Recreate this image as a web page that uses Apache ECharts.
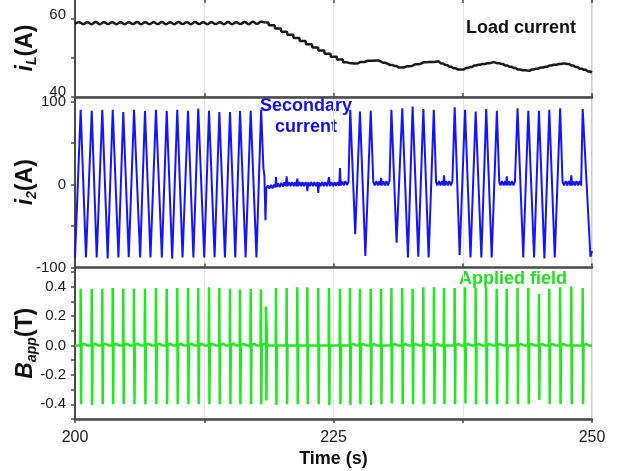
<!DOCTYPE html>
<html>
<head>
<meta charset="utf-8">
<script src="https://cdn.jsdelivr.net/npm/echarts@6/dist/echarts.min.js"></script>
<style>
html, body { margin: 0; padding: 0; background: #ffffff; }
#chart { width: 621px; height: 471px; }
</style>
</head>
<body>
<div id="chart"></div>
<script>
// ---- Load current i_L (A): rippled plateau, then a staircase decline ----
const loadRippleTime = [200.0, 200.4, 200.8, 201.2, 201.6, 202.0, 202.4, 202.8, 203.2, 203.6,
  204.0, 204.4, 204.8, 205.2, 205.6, 206.0, 206.4, 206.8, 207.2, 207.6,
  208.0, 208.4, 208.8, 209.2, 209.6, 210.0, 210.4, 210.8, 211.2, 211.6,
  212.0, 212.4, 212.8, 213.2, 213.6, 214.0, 214.4, 214.8, 215.2, 215.6,
  216.0, 216.4, 216.8, 217.2, 217.6, 218.0, 218.4];
const loadRippleAmp = [58.6, 59.0, 58.5, 59.0, 58.5, 59.05, 58.5, 59.0, 58.55, 59.0,
  58.5, 59.0, 58.5, 59.0, 58.55, 59.05, 58.5, 59.0, 58.5, 59.0,
  58.55, 59.05, 58.5, 59.0, 58.5, 59.05, 58.55, 59.0, 58.5, 59.05,
  58.55, 59.0, 58.5, 59.0, 58.55, 59.0, 58.5, 59.05, 58.5, 59.0,
  58.55, 59.05, 58.5, 59.1, 58.6, 59.1, 58.9];
const loadStepTime = [218.4, 218.7, 218.8, 219.3, 219.4, 219.9, 220.0, 220.5, 220.6, 221.1,
  221.2, 221.7, 221.8, 222.3, 222.4, 222.9, 223.0, 223.5, 223.6, 224.1,
  224.2, 224.7, 224.8, 225.3, 225.4, 225.9, 226.0, 226.6, 227.0, 227.4,
  227.6, 228.0, 228.3, 228.8, 229.1, 229.5, 229.8, 230.2, 230.5, 230.9,
  231.3, 231.8, 232.1, 232.6, 232.9, 233.4, 233.7, 234.2, 234.7, 235.0,
  235.4, 235.8, 236.2, 236.6, 237.0, 237.4, 237.8, 238.2, 238.6, 239.0,
  239.4, 239.9, 240.4, 240.8, 241.2, 241.6, 242.0, 242.4, 242.8, 243.3,
  243.8, 244.2, 244.6, 245.0, 245.5, 245.9, 246.3, 246.8, 247.2, 247.6,
  248.0, 248.4, 248.8, 249.2, 249.6, 250.0];
const loadStepAmp = [58.9, 58.9, 58.2, 58.2, 57.4, 57.4, 56.6, 56.6, 55.8, 55.8,
  55.0, 55.0, 54.2, 54.2, 53.4, 53.4, 52.6, 52.6, 51.8, 51.8,
  51.0, 51.0, 50.2, 50.2, 49.5, 49.5, 48.8, 48.6, 48.5, 48.6,
  48.9, 48.9, 49.2, 49.2, 49.3, 49.1, 48.7, 48.5, 48.1, 47.9,
  47.5, 47.5, 47.8, 47.9, 48.3, 48.4, 48.8, 48.9, 48.9, 49.0,
  48.5, 48.1, 47.7, 47.3, 47.0, 47.0, 47.4, 47.6, 48.0, 48.2,
  48.4, 48.6, 48.8, 48.6, 48.4, 48.0, 47.7, 47.4, 47.0, 46.8,
  46.7, 47.0, 47.2, 47.5, 47.7, 48.0, 48.2, 48.4, 48.5, 48.4,
  48.0, 47.6, 47.2, 46.9, 46.5, 46.2];

// ---- Secondary current i_2 (A) ----
const secTime = [200.0, 200.55, 201.06, 201.62, 202.1, 202.64, 203.16, 203.65, 204.2, 204.67,
  205.2, 205.71, 206.3, 206.77, 207.3, 207.83, 208.4, 208.87, 209.4, 209.89,
  210.4, 210.93, 211.45, 211.92, 212.5, 212.96, 213.5, 213.96, 214.5, 214.99,
  215.5, 215.96, 216.5, 216.99, 217.55, 218.0, 218.22, 218.32, 218.42, 218.5,
  218.65, 218.8, 218.95, 219.1, 219.25, 219.38, 219.44, 219.5, 219.65, 219.8,
  219.95, 220.1, 220.25, 220.38, 220.47, 220.55, 220.7, 220.85, 221.0, 221.15,
  221.3, 221.42, 221.5, 221.58, 221.72, 221.87, 222.0, 222.15, 222.3, 222.42,
  222.47, 222.55, 222.7, 222.85, 223.0, 223.15, 223.3, 223.45, 223.53, 223.6,
  223.75, 223.9, 224.05, 224.2, 224.35, 224.48, 224.56, 224.64, 224.8, 224.95,
  225.1, 225.25, 225.4, 225.55, 225.63, 225.7, 225.85, 226.0, 226.15, 226.3,
  226.45, 226.62, 227.1, 227.56, 228.08, 228.6, 228.85, 229.0, 229.15, 229.3,
  229.45, 229.55, 229.6, 229.68, 229.82, 229.97, 230.12, 230.27, 230.42, 230.6,
  231.1, 231.65, 232.2, 232.65, 233.2, 233.69, 234.2, 234.7, 234.92, 235.05,
  235.2, 235.35, 235.5, 235.63, 235.69, 235.76, 235.9, 236.05, 236.2, 236.35,
  236.5, 236.72, 237.2, 237.72, 238.25, 238.75, 239.3, 239.77, 240.3, 240.8,
  241.03, 241.15, 241.3, 241.45, 241.6, 241.7, 241.75, 241.82, 241.95, 242.1,
  242.25, 242.4, 242.55, 242.8, 243.35, 243.84, 244.4, 244.87, 245.4, 245.87,
  246.4, 246.92, 247.15, 247.3, 247.45, 247.6, 247.75, 247.9, 248.0, 248.08,
  248.2, 248.35, 248.5, 248.65, 248.8, 248.95, 249.1, 249.85, 250.0];
const secAmp = [-88, 90, -88, 89, -88, 90, -89, 90, -88, 87.5,
  -87.5, 90, -88, 88.5, -88, 90, -88, 88.5, -89.5, 90,
  -88, 89, -88, 91.5, -88, 89, -87.5, 87.5, -88, 87.5,
  -88, 88.5, -88, 89, -88, 90, 20, 10, -43, -5,
  -1, -5, -0.5, -4.5, 0, -3.5, 9, -3, 1.5, -3,
  2, -2.5, 2.5, -2, 10, -2, 3, -2, 3, -2,
  3, -2, 7, -2, 3, -2, 3, -2, 3, -1.5,
  -8, 3, -2, 3, -2, 3, -2, 3, -10, 2.5,
  -2, 3, -2, 3, -2, 3, 9, -2, 3, -2,
  3, -1.5, 3, -1.5, 20, -1, 3.5, -1, 4, -0.5,
  3, 90, -60, 88, -86, 89, 3, -1, 4, -1,
  4, -1, 8, -1, 4, -1, 4, -1, 4, 90,
  -70, 92, -88, 94, -87, 91, -88, 90, 3, -1,
  4, -1, 4, -1, 11, -1, 4, -1, 4, -1,
  4, 93, -85, 90, -88, 88, -88, 91, -88, 89,
  3, -1, 4, -1, 4, -1, 10, -1, 4, -1,
  4, -1, 4, 92, -88, 89, -88, 89, -89, 90,
  -88, 92, 3, -1, 4, -1, 4, -1, 11, -1,
  4, -1, 4, -1, 4, -1, 91, -87, -80];

// ---- Applied field B_app (T): one pulse per entry ----
const pulseTime = [200.55, 201.62, 202.64, 203.65, 204.67, 205.71, 206.77, 207.83, 208.87, 209.89,
  210.93, 211.92, 212.96, 213.96, 214.99, 215.96, 216.99, 217.98, 218.47, 219.44,
  220.47, 221.5, 222.47, 223.53, 224.56, 225.63, 226.6, 227.56, 228.6, 229.6,
  230.6, 231.65, 232.65, 233.69, 234.72, 235.69, 236.72, 237.72, 238.75, 239.77,
  240.78, 241.75, 242.8, 243.84, 244.87, 245.87, 246.92, 248.0, 249.1];
const pulseHigh = [0.385, 0.385, 0.385, 0.39, 0.385, 0.385, 0.385, 0.39, 0.385, 0.39,
  0.39, 0.39, 0.395, 0.39, 0.385, 0.38, 0.385, 0.38, 0.265, 0.39,
  0.39, 0.395, 0.395, 0.39, 0.39, 0.385, 0.39, 0.385, 0.385, 0.385,
  0.39, 0.39, 0.385, 0.395, 0.395, 0.39, 0.39, 0.395, 0.39, 0.39,
  0.385, 0.385, 0.39, 0.39, 0.35, 0.385, 0.395, 0.40, 0.39];
const pulseLow = [-0.40, -0.405, -0.40, -0.40, -0.40, -0.40, -0.40, -0.40, -0.40, -0.40,
  -0.40, -0.40, -0.40, -0.40, -0.40, -0.40, -0.40, -0.40, -0.375, -0.405,
  -0.40, -0.40, -0.40, -0.40, -0.405, -0.40, -0.405, -0.40, -0.405, -0.40,
  -0.395, -0.40, -0.40, -0.40, -0.40, -0.40, -0.40, -0.395, -0.40, -0.40,
  -0.40, -0.40, -0.40, -0.40, -0.37, -0.40, -0.40, -0.40, -0.40];
// small baseline ripple after each pulse while the secondary current flows
const pulseRipple = [0.012, 0.012, 0.012, 0.012, 0.012, 0.012, 0.012, 0.012, 0.012, 0.012,
  0.012, 0.012, 0.012, 0.012, 0.012, 0.012, 0.012, 0.012, 0, 0,
  0, 0, 0, 0, 0, 0, 0.01, 0.01, 0.01, 0,
  0.01, 0.01, 0.01, 0.01, 0.01, 0, 0.01, 0.01, 0.01, 0.01,
  0.01, 0, 0.01, 0.01, 0.01, 0.01, 0.01, 0, 0.01];

const timeTicks = [200, 225, 250];

// ---- build series point lists ----
const zip = (a, b) => a.map((t, i) => [t, b[i]]);
const loadRipple = zip(loadRippleTime, loadRippleAmp);
const loadSteps = zip(loadStepTime, loadStepAmp);
const secondary = zip(secTime, secAmp);

const field = [[200, 0]];
pulseTime.forEach((t, i) => {
  field.push([t - 0.03, 0], [t, pulseHigh[i]], [t + 0.04, pulseLow[i]], [t + 0.08, 0]);
  if (pulseRipple[i] > 0) {
    field.push([t + 0.3, pulseRipple[i]], [t + 0.6, 0]);
  }
});
field.push([250, 0]);

const FONT = '"Liberation Sans", Arial, Helvetica, sans-serif';
const AXIS_COLOR = '#4a4a4a';

function xAxisFor(gridIndex, showLabels) {
  return {
    type: 'value', gridIndex, min: 200, max: 250, interval: 12.5,
    axisLine: { show: true, onZero: false, lineStyle: { color: AXIS_COLOR, width: 2.5 } },
    axisTick: { show: true, inside: !showLabels, length: 4, lineStyle: { color: AXIS_COLOR, width: 1.5 } },
    axisLabel: {
      show: showLabels, fontFamily: FONT, fontSize: 16, color: '#1a1a1a', margin: 11,
      formatter: v => (timeTicks.indexOf(v) >= 0 ? String(v) : '')
    },
    splitLine: { show: true, lineStyle: { color: '#e3e3e3', width: 1 } },
    name: showLabels ? 'Time (s)' : '',
    nameLocation: 'middle', nameGap: 31, nameMoveOverlap: false,
    nameTextStyle: { fontFamily: FONT, fontWeight: 'bold', fontSize: 18, color: '#111' }
  };
}

function nameStyle() {
  return {
    rich: {
      v: { fontFamily: FONT, fontStyle: 'italic', fontWeight: 'bold', fontSize: 23, color: '#111' },
      s: { fontFamily: FONT, fontStyle: 'italic', fontWeight: 'bold', fontSize: 14, color: '#111', padding: [12, 0, 0, 0] },
      u: { fontFamily: FONT, fontWeight: 'bold', fontSize: 23, color: '#111' }
    }
  };
}

function yAxisFor(gridIndex, cfg) {
  return {
    type: 'value', gridIndex, min: cfg.min, max: cfg.max, interval: cfg.interval,
    axisLine: { show: true, onZero: false, lineStyle: { color: AXIS_COLOR, width: 2 } },
    axisTick: { show: true, inside: false, length: 4, lineStyle: { color: AXIS_COLOR, width: 1.5 } },
    axisLabel: {
      fontFamily: FONT, fontSize: 15, color: '#1a1a1a', margin: 9,
      showMaxLabel: false,
      formatter: cfg.formatter, rich: cfg.rich
    },
    splitLine: { show: false },
    name: cfg.name, nameLocation: 'middle', nameRotate: 90, nameGap: cfg.nameGap,
    nameMoveOverlap: false,
    nameTextStyle: nameStyle()
  };
}

// three stacked panels sharing one time scale; fixed placement, no auto-fit of labels
const gridBase = { left: 75, right: 29, show: true, borderColor: '#9a9a9a', borderWidth: 1, containLabel: false, outerBoundsMode: 'none' };

const chart = echarts.init(document.getElementById('chart'), null, { renderer: 'canvas' });

chart.setOption({
  backgroundColor: '#ffffff',
  animation: false,
  grid: [
    Object.assign({ top: -1, height: 98 }, gridBase),
    Object.assign({ top: 97, height: 170.5 }, gridBase),
    Object.assign({ top: 267.5, height: 151.5 }, gridBase)
  ],
  xAxis: [
    xAxisFor(0, false),
    Object.assign(xAxisFor(0, false), { position: 'top', splitLine: { show: false }, axisLine: { show: false } }),
    xAxisFor(1, false),
    xAxisFor(2, true)
  ],
  yAxis: [
    yAxisFor(0, {
      min: 40, max: 64.9, interval: 10, nameGap: 36,
      name: '{v|i}{s|L}{u|(A)}',
      formatter: v => (v === 40 ? '{lo|40}' : v === 60 ? '{hi|60}' : ''),
      rich: {
        lo: { fontFamily: FONT, fontSize: 15, color: '#1a1a1a', padding: [0, 0, 11, 0] },
        hi: { fontFamily: FONT, fontSize: 15, color: '#1a1a1a', padding: [0, 0, 6, 0] }
      }
    }),
    yAxisFor(1, {
      min: -100, max: 105.5, interval: 50, nameGap: 36,
      name: '{v|i}{s|2}{u|(A)}',
      formatter: v => (v === -100 || v === 0 || v === 100 ? String(v) : '')
    }),
    yAxisFor(2, {
      min: -0.5, max: 0.53, interval: 0.1, nameGap: 36,
      name: '{v|B}{s|app}{u|(T)}',
      formatter: v => {
        const k = Math.round(v * 10);
        return (k % 2 === 0 && Math.abs(k) <= 4) ? (k / 10).toFixed(1) : '';
      }
    })
  ],
  series: [
    {
      type: 'line', xAxisIndex: 0, yAxisIndex: 0, data: loadRipple, smooth: 0.5,
      showSymbol: false, lineStyle: { color: '#1a1a1a', width: 2.5 }
    },
    {
      type: 'line', xAxisIndex: 0, yAxisIndex: 0, data: loadSteps, step: 'middle',
      showSymbol: false, lineStyle: { color: '#1a1a1a', width: 2.5 }
    },
    {
      type: 'line', xAxisIndex: 2, yAxisIndex: 1, data: secondary,
      showSymbol: false, lineStyle: { color: '#1414ff', width: 2 }
    },
    {
      type: 'line', xAxisIndex: 3, yAxisIndex: 2, data: field,
      showSymbol: false, lineStyle: { color: '#22e822', width: 2.5 }
    }
  ],
  graphic: [
    {
      type: 'text', x: 521, y: 28,
      style: { text: 'Load current', fill: '#111', font: 'bold 18px ' + FONT, align: 'center', verticalAlign: 'middle' }
    },
    {
      type: 'text', x: 306, y: 117,
      style: { text: 'Secondary\ncurrent', fill: '#1010e6', font: 'bold 18px ' + FONT, lineHeight: 21, align: 'center', verticalAlign: 'middle' }
    },
    {
      type: 'text', x: 513, y: 279,
      style: { text: 'Applied field', fill: '#22e022', font: 'bold 18px ' + FONT, align: 'center', verticalAlign: 'middle' }
    }
  ]
});
</script>
</body>
</html>
